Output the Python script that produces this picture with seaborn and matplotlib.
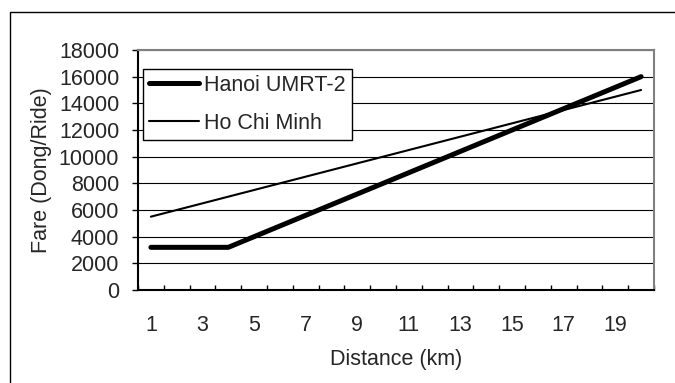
import matplotlib
matplotlib.use("Agg")
import matplotlib.pyplot as plt
from matplotlib.patches import Rectangle
from matplotlib.ticker import MultipleLocator, FixedLocator
import seaborn as sns
import pandas as pd

# Fare per ride by trip distance
distance_km = [1, 2, 3, 4, 5, 6, 7, 8, 9, 10, 11, 12, 13, 14, 15, 16, 17, 18, 19, 20]
hanoi_fare = [3200, 3200, 3200, 3200, 4000, 4800, 5600, 6400, 7200, 8000,
              8800, 9600, 10400, 11200, 12000, 12800, 13600, 14400, 15200, 16000]
hcm_fare = [5500, 6000, 6500, 7000, 7500, 8000, 8500, 9000, 9500, 10000,
            10500, 11000, 11500, 12000, 12500, 13000, 13500, 14000, 14500, 15000]
series_names = ["Hanoi UMRT-2", "Ho Chi Minh"]
x_tick_labels = [1, 3, 5, 7, 9, 11, 13, 15, 17, 19]
y_ticks = [0, 2000, 4000, 6000, 8000, 10000, 12000, 14000, 16000, 18000]

df = pd.concat([
    pd.DataFrame({"Distance": distance_km, "Fare": hanoi_fare, "City": series_names[0]}),
    pd.DataFrame({"Distance": distance_km, "Fare": hcm_fare, "City": series_names[1]}),
])

sns.set_theme(style="white")
plt.rcParams["font.family"] = ["Liberation Sans", "DejaVu Sans"]

FS = 15.5
W, H = 675, 383
fig = plt.figure(figsize=(W / 100, H / 100), dpi=100)
ax = fig.add_axes([138 / W, 1 - 290 / H, (654 - 138) / W, (290 - 50) / H])

widths = {series_names[0]: 3.6, series_names[1]: 1.5}
for name in series_names:
    sns.lineplot(data=df[df["City"] == name], x="Distance", y="Fare", ax=ax,
                 color="black", linewidth=widths[name], label=name,
                 solid_capstyle="round", solid_joinstyle="miter")

ax.set_xlim(0.5, 20.5)
ax.set_ylim(0, 18000)
ax.yaxis.set_major_locator(FixedLocator(y_ticks))
ax.set_yticklabels([str(v) for v in y_ticks])
ax.xaxis.set_major_locator(FixedLocator(x_tick_labels))
ax.set_xticklabels([str(v) for v in x_tick_labels])
ax.xaxis.set_minor_locator(MultipleLocator(1, offset=0.5))

ax.tick_params(axis="y", which="major", direction="out", length=4.5, width=1,
               color="black", labelsize=FS, pad=9, left=True)
ax.tick_params(axis="x", which="major", length=0, labelsize=FS, pad=18, bottom=True)
ax.tick_params(axis="x", which="minor", direction="in", length=3.8, width=1,
               color="black", bottom=True)

ax.grid(axis="y", color="black", linewidth=0.8)
ax.grid(axis="x", visible=False)
ax.set_axisbelow(True)

for side in ("left", "bottom"):
    ax.spines[side].set_color("black")
    ax.spines[side].set_linewidth(1.5)
for side in ("top", "right"):
    ax.spines[side].set_color("#808080")
    ax.spines[side].set_linewidth(1.5)

ax.set_xlabel("Distance (km)", fontsize=FS, va="center")
ax.set_ylabel("Fare (Dong/Ride)", fontsize=FS, va="center")
ax.xaxis.set_label_coords(0.5, -(359 - 290) / 240, transform=ax.transAxes)
ax.yaxis.set_label_coords((42 - 138) / 516, 0.5, transform=ax.transAxes)

leg = ax.legend(loc="upper left", bbox_to_anchor=(143 / W, 1 - 69 / H),
                bbox_transform=fig.transFigure, fontsize=FS, frameon=True,
                fancybox=False, shadow=False, handlelength=2.33,
                handletextpad=0.25, borderpad=0.27, labelspacing=0.79,
                borderaxespad=0)
leg.get_frame().set_edgecolor("black")
leg.get_frame().set_linewidth(1.0)
leg.get_frame().set_facecolor("white")
leg.get_frame().set_alpha(1)

# Chart border around the whole figure area
fig.add_artist(Rectangle((10 / W, -0.1), 2, (1 - 12 / H) + 0.1,
                         transform=fig.transFigure, fill=False,
                         edgecolor="black", linewidth=1.0))

fig.savefig("out.png", dpi=100)
